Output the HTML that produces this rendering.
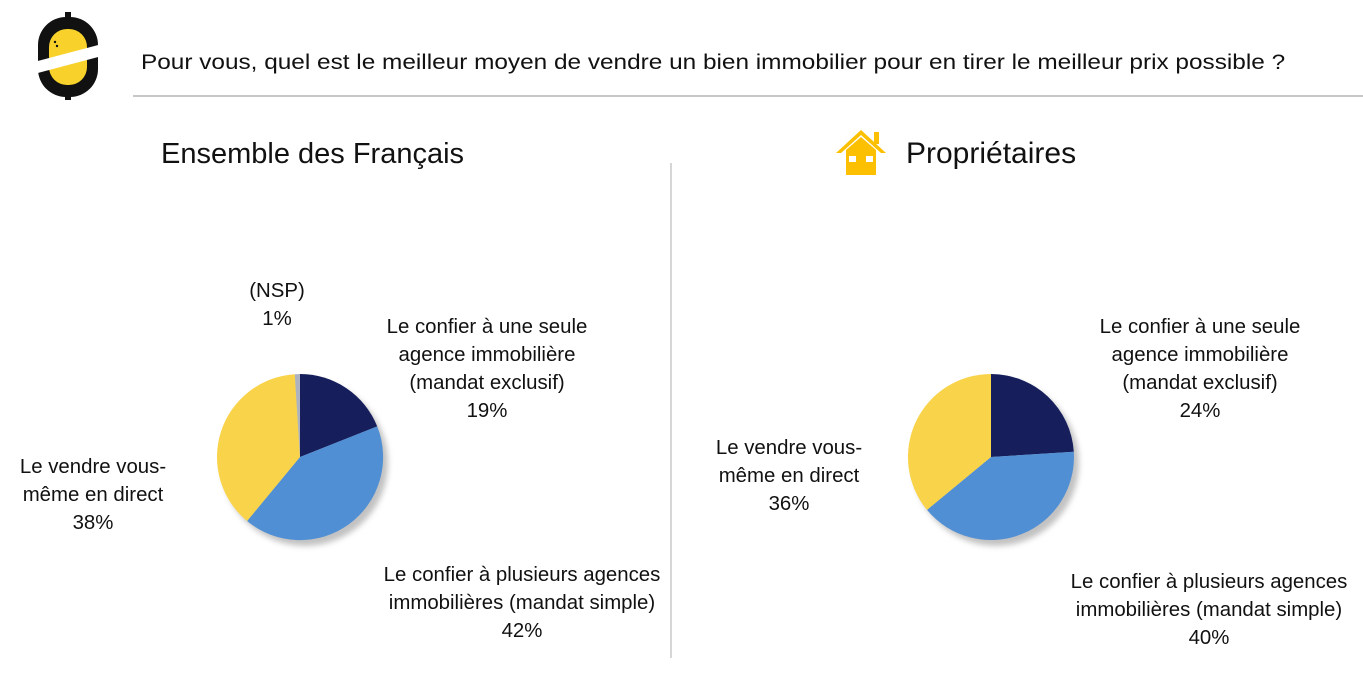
<!DOCTYPE html>
<html><head><meta charset="utf-8"><style>
body{margin:0;width:1363px;height:686px;background:#fff;position:relative;overflow:hidden;font-family:"Liberation Sans",sans-serif;color:#111}
.t{position:absolute;text-align:center;font-size:20px;line-height:28px;white-space:nowrap;transform:translateX(-50%) scaleX(1.02)}
</style></head><body>
<svg width="1363" height="686" style="position:absolute;left:0;top:0">
<defs><filter id="sh" x="-20%" y="-20%" width="150%" height="150%"><feGaussianBlur stdDeviation="3"/></filter></defs>
<rect x="65" y="12" width="6" height="8" fill="#111"/>
<rect x="65" y="92" width="6" height="8" fill="#111"/>
<rect x="38" y="17" width="60" height="80" rx="28" fill="#111"/>
<rect x="49" y="29" width="38" height="56" rx="18" fill="#f8d12a"/>
<polygon points="34,62 102,44 102,56 34,74" fill="#fff"/>
<circle cx="55" cy="42" r="1.2" fill="#111"/><circle cx="57" cy="46" r="1.2" fill="#111"/>
<line x1="133" y1="96" x2="1363" y2="96" stroke="#c8c8c8" stroke-width="2"/>
<line x1="671" y1="163" x2="671" y2="658" stroke="#c8c8c8" stroke-width="1.5"/>
<polygon points="861,130 836,153 841,153 861,135 881,153 886,153" fill="#fcc000"/>
<rect x="874" y="132" width="5" height="12" fill="#fcc000"/>
<polygon points="846,150 861,137 876,150 876,175 846,175" fill="#fcc000"/>
<rect x="849" y="156" width="7" height="6" fill="#fff"/><rect x="866" y="156" width="7" height="6" fill="#fff"/>
<circle cx="305" cy="463" r="83" fill="#999" opacity="0.6" filter="url(#sh)"/>
<path d="M300,457 L300,374 A83,83 0 0 1 377.2,426.4 Z" fill="#161f5c"/>
<path d="M300,457 L377.2,426.4 A83,83 0 0 1 247.1,521 Z" fill="#518fd4"/>
<path d="M300,457 L247.1,521 A83,83 0 0 1 294.8,374.2 Z" fill="#f9d34a"/>
<path d="M300,457 L294.8,374.2 A83,83 0 0 1 300,374 Z" fill="#aeb4bf"/>
<circle cx="996" cy="463" r="83" fill="#999" opacity="0.6" filter="url(#sh)"/>
<path d="M991,457 L991,374 A83,83 0 0 1 1073.8,451.8 Z" fill="#161f5c"/>
<path d="M991,457 L1073.8,451.8 A83,83 0 0 1 927,509.9 Z" fill="#518fd4"/>
<path d="M991,457 L927,509.9 A83,83 0 0 1 991,374 Z" fill="#f9d34a"/>
</svg>
<div style="position:absolute;left:141px;top:51px;font-size:21px;white-space:nowrap;transform-origin:0 0;transform:scaleX(1.16)">Pour vous, quel est le meilleur moyen de vendre un bien immobilier pour en tirer le meilleur prix possible ?</div>
<div style="position:absolute;left:161px;top:138px;font-size:29px;white-space:nowrap">Ensemble des Français</div>
<div style="position:absolute;left:906px;top:137px;font-size:30px;white-space:nowrap">Propriétaires</div>

<div class="t" style="left:277px;top:277px">(NSP)<br>1%</div>
<div class="t" style="left:487px;top:313px">Le confier à une seule<br>agence immobilière<br>(mandat exclusif)<br>19%</div>
<div class="t" style="left:93px;top:453px">Le vendre vous-<br>même en direct<br>38%</div>
<div class="t" style="left:522px;top:561px">Le confier à plusieurs agences<br>immobilières (mandat simple)<br>42%</div>

<div class="t" style="left:1200px;top:313px">Le confier à une seule<br>agence immobilière<br>(mandat exclusif)<br>24%</div>
<div class="t" style="left:789px;top:434px">Le vendre vous-<br>même en direct<br>36%</div>
<div class="t" style="left:1209px;top:568px">Le confier à plusieurs agences<br>immobilières (mandat simple)<br>40%</div>
</body></html>
